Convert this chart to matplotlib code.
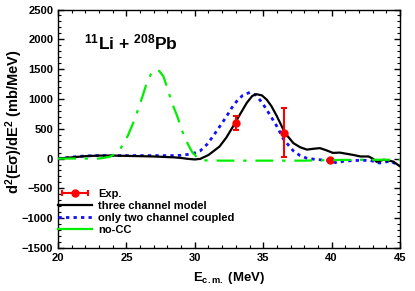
import matplotlib
matplotlib.use("Agg")
import matplotlib.pyplot as plt
from matplotlib.ticker import MultipleLocator
from matplotlib.lines import Line2D
from matplotlib.legend_handler import HandlerLine2D

plt.rcParams['font.family'] = ['Liberation Sans', 'DejaVu Sans']
plt.rcParams['font.weight'] = 'bold'
plt.rcParams['mathtext.fontset'] = 'custom'
plt.rcParams['mathtext.rm'] = 'Liberation Sans:bold'
plt.rcParams['mathtext.it'] = 'Liberation Sans:bold'
plt.rcParams['mathtext.bf'] = 'Liberation Sans:bold'

# Experimental points
exp_E = [33.0, 36.5, 39.9]
exp_v = [600, 430, -30]
exp_err = [120, 410, 25]

# three channel model (black solid)
three_E = [20, 21, 22, 23, 24, 25, 26, 27, 28, 28.5, 29, 29.5, 30, 30.4, 31, 31.8, 32.3, 32.8,
           33.3, 33.8, 34.2, 34.5, 34.9, 35.25, 35.6, 36.0, 36.4, 36.7, 37.2, 37.7, 38.2, 38.7,
           39.15, 39.6, 40.1, 40.6, 41.1, 41.6, 42.1, 42.7, 43.0, 43.3, 43.8, 44.2, 44.5, 45]
three_v = [0, 20, 40, 50, 50, 45, 40, 35, 25, 20, 10, -5, -15, -5, 60, 200, 350, 540,
           740, 935, 1050, 1080, 1060, 990, 880, 710, 520, 400, 260, 190, 150, 165,
           175, 140, 95, 100, 80, 60, 35, 35, 0, -55, -20, -35, -50, -130]

# only two channel coupled (blue dotted)
two_E = [20, 21, 22, 23, 24, 25, 26, 27, 28, 28.5, 29, 29.5, 30, 30.4, 30.9, 31.35, 31.8, 32.3,
         32.7, 33.06, 33.5, 34.03, 34.5, 35.0, 35.5, 36.0, 36.5, 37.2, 37.7, 38.2, 38.7, 39.15,
         39.7, 40.4, 40.86, 41.5, 42.07, 42.8, 43.5, 44.0, 44.3, 45]
two_v = [0, 25, 45, 50, 50, 50, 50, 50, 50, 50, 55, 70, 95, 130, 240, 380, 530, 700,
         850, 960, 1060, 1110, 1060, 910, 730, 540, 320, 130, 50, 5, -10, -20,
         -30, -75, -45, -35, -30, -30, -75, -55, -45, -120]

# no-CC (green dash-dot)
nocc_E = [20, 21, 22, 23, 23.8, 24.3, 24.6, 25.1, 25.5, 25.85, 26.2, 26.45, 26.8, 27.07, 27.4,
          27.7, 28.0, 28.3, 28.7, 29.1, 29.5, 29.8, 30.2, 30.6, 32, 35, 38, 40, 42, 45]
nocc_v = [0, 0, 0, 0, 30, 100, 180, 380, 600, 820, 1060, 1240, 1420, 1490, 1470,
          1380, 1180, 950, 720, 450, 240, 110, 10, -30, -35, -35, -35, -25, -20, -20]

fig = plt.figure(figsize=(4.15, 2.91), dpi=100)
ax = fig.add_axes([58/415, 1-248/291, 342/415, 238.5/291])

red = '#ff0000'
blue = '#1010ff'
green = '#00ee00'

ax.plot(two_E, two_v, color=blue, lw=2.0, linestyle=(0, (1.2, 1.5)), zorder=3)
ax.plot(three_E, three_v, color='black', lw=1.6, zorder=4)
ax.plot(nocc_E, nocc_v, color=green, lw=1.6, linestyle=(0, (8, 4, 1.5, 4)), zorder=5)
ax.errorbar(exp_E, exp_v, yerr=exp_err, fmt='o', color=red, ms=5, lw=1.5,
            capsize=2.5, capthick=1.5, zorder=4)

ax.set_xlim(20, 45)
ax.set_ylim(-1500, 2500)
ax.xaxis.set_major_locator(MultipleLocator(5))
ax.xaxis.set_minor_locator(MultipleLocator(1))
ax.yaxis.set_major_locator(MultipleLocator(500))
ax.yaxis.set_minor_locator(MultipleLocator(100))
ax.tick_params(which='both', direction='in', top=True, right=True, labelsize=8)
ax.tick_params(which='major', length=4, width=1)
ax.tick_params(which='minor', length=2, width=0.8)
for s in ax.spines.values():
    s.set_linewidth(1.0)
for lab in ax.get_xticklabels() + ax.get_yticklabels():
    lab.set_fontweight('bold')

# legend handles
caps = Line2D([], [], color=red, lw=1.5, marker='|', ms=5, mew=1.5)
dot = Line2D([], [], color=red, lw=0, marker='o', ms=5)
h_three = Line2D([], [], color='black', lw=1.6)
h_two = Line2D([], [], color=blue, lw=2.0, linestyle=(0, (1.2, 1.5)))
h_nocc = Line2D([], [], color=green, lw=1.6)
leg_labels = ['Exp.', 'three channel model', 'only two channel coupled', 'no-CC']
leg = ax.legend([(caps, dot), h_three, h_two, h_nocc], leg_labels,
                handler_map={caps: HandlerLine2D(numpoints=2)},
                loc='lower left', bbox_to_anchor=(-0.012, 0.035),
                frameon=False, fontsize=8, handlelength=3.0, handletextpad=0.6,
                labelspacing=0.18, borderaxespad=0.0, numpoints=1)
for t in leg.get_texts():
    t.set_fontweight('bold')

ax.text(21.9, 1950, r'$^{11}$Li + $^{208}$Pb', fontsize=12.5, fontweight='bold',
        ha='left', va='center')

fig.text(14/415, 1-122/291, r'd$^2$(E$\sigma$)/dE$^2$ (mb/MeV)', rotation=90, fontsize=10.5,
         fontweight='bold', ha='center', va='center')
fig.text(229/415, 1-281.5/291, r'E$_{\rm c.m.}$ (MeV)', fontsize=9.5, fontweight='bold',
         ha='center', va='baseline')

fig.savefig('out.png', dpi=100)
